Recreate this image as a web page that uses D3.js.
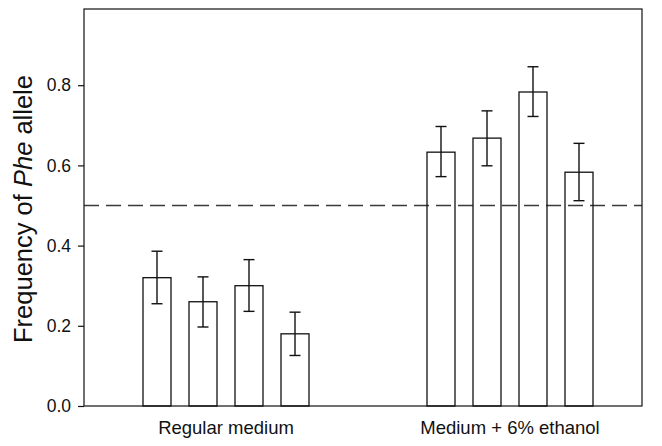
<!DOCTYPE html>
<html>
<head>
<meta charset="utf-8">
<script src="https://cdn.jsdelivr.net/npm/d3@7"></script>
<style>
  body { margin: 0; background: #fff; }
  svg { display: block; font-family: "Liberation Sans", Arial, sans-serif; }
</style>
</head>
<body>
<div id="chart"></div>
<script>
'use strict';

/**** DATA ****/
var groups = ["Regular medium", "Medium + 6% ethanol"];
var replicates = [0, 1, 2, 3];
// frequency per bar, first 4 regular medium, last 4 ethanol
var freqMean = [0.32, 0.26, 0.30, 0.18, 0.633, 0.668, 0.783, 0.583];
var freqUpper = [0.386, 0.322, 0.365, 0.234, 0.697, 0.736, 0.846, 0.655];
var freqLower = [0.255, 0.197, 0.236, 0.126, 0.572, 0.599, 0.722, 0.512];
var yTicks = [0.0, 0.2, 0.4, 0.6, 0.8];
var refLine = 0.5;

var width = 662, height = 446;
var plot = { left: 84, right: 642, top: 9, bottom: 406 };

var svg = d3.select("#chart").append("svg")
  .attr("width", width)
  .attr("height", height);

/**** SCALES ****/
var y = d3.scaleLinear().domain([0, 0.99]).range([plot.bottom, plot.top]);
var xGroup = d3.scaleBand().domain(groups).range([plot.left, plot.left + 568]);
var xBar = d3.scaleBand().domain(replicates).range([-92, 92])
  .paddingInner(18 / 46).paddingOuter(9 / 46);

// flatten into bar records
var bars = freqMean.map(function(d, i) {
  var g = groups[Math.floor(i / 4)];
  var r = replicates[i % 4];
  return {
    group: g, rep: r, mean: d, hi: freqUpper[i], lo: freqLower[i],
    x: xGroup(g) + xGroup.bandwidth() / 2 + xBar(r)
  };
});

// dashed reference line (drawn under bars, bars are white filled)
svg.append("line")
  .attr("x1", plot.left).attr("x2", plot.right)
  .attr("y1", y(refLine)).attr("y2", y(refLine))
  .attr("stroke", "#3a3a3a")
  .attr("stroke-width", 1.4)
  .attr("stroke-dasharray", "15,7");

// bars
svg.append("g").selectAll("rect")
  .data(bars)
  .enter().append("rect")
  .attr("x", function(d) { return d.x; })
  .attr("y", function(d) { return y(d.mean); })
  .attr("width", xBar.bandwidth())
  .attr("height", function(d) { return y(0) - y(d.mean); })
  .attr("fill", "none")
  .attr("stroke", "#111")
  .attr("stroke-width", 1.3);

// error bars
var err = svg.append("g").attr("stroke", "#111").attr("stroke-width", 1.4);
bars.forEach(function(d) {
  var cx = d.x + xBar.bandwidth() / 2;
  err.append("line").attr("x1", cx).attr("x2", cx).attr("y1", y(d.hi)).attr("y2", y(d.lo));
  err.append("line").attr("x1", cx - 5.5).attr("x2", cx + 5.5).attr("y1", y(d.hi)).attr("y2", y(d.hi));
  err.append("line").attr("x1", cx - 5.5).attr("x2", cx + 5.5).attr("y1", y(d.lo)).attr("y2", y(d.lo));
});

// frame
svg.append("rect")
  .attr("x", plot.left).attr("y", plot.top)
  .attr("width", plot.right - plot.left)
  .attr("height", plot.bottom - plot.top)
  .attr("fill", "none")
  .attr("stroke", "#111")
  .attr("stroke-width", 1.2);

// y axis
var yAxis = svg.append("g")
  .attr("transform", "translate(" + plot.left + ",0)")
  .call(d3.axisLeft(y).tickValues(yTicks).tickFormat(d3.format(".1f")).tickSize(6).tickPadding(7));
yAxis.select(".domain").remove();
yAxis.selectAll("line").attr("stroke", "#111").attr("stroke-width", 1.2);
yAxis.selectAll("text")
  .attr("fill", "#111")
  .style("font-size", "17.5px")
  .style("font-family", "Liberation Sans, Arial, sans-serif");

// group labels
svg.append("g").selectAll("text")
  .data(groups)
  .enter().append("text")
  .attr("x", function(d) { return xGroup(d) + xGroup.bandwidth() / 2; })
  .attr("y", 434)
  .attr("text-anchor", "middle")
  .attr("fill", "#111")
  .style("font-size", "18.5px")
  .text(function(d) { return d; });

// y title with italic Phe
var title = svg.append("text")
  .attr("transform", "translate(32,209) rotate(-90)")
  .attr("text-anchor", "middle")
  .attr("fill", "#111")
  .style("font-size", "25.5px");
title.append("tspan").text("Frequency of ");
title.append("tspan").style("font-style", "italic").text("Phe");
title.append("tspan").text(" allele");
</script>
</body>
</html>
